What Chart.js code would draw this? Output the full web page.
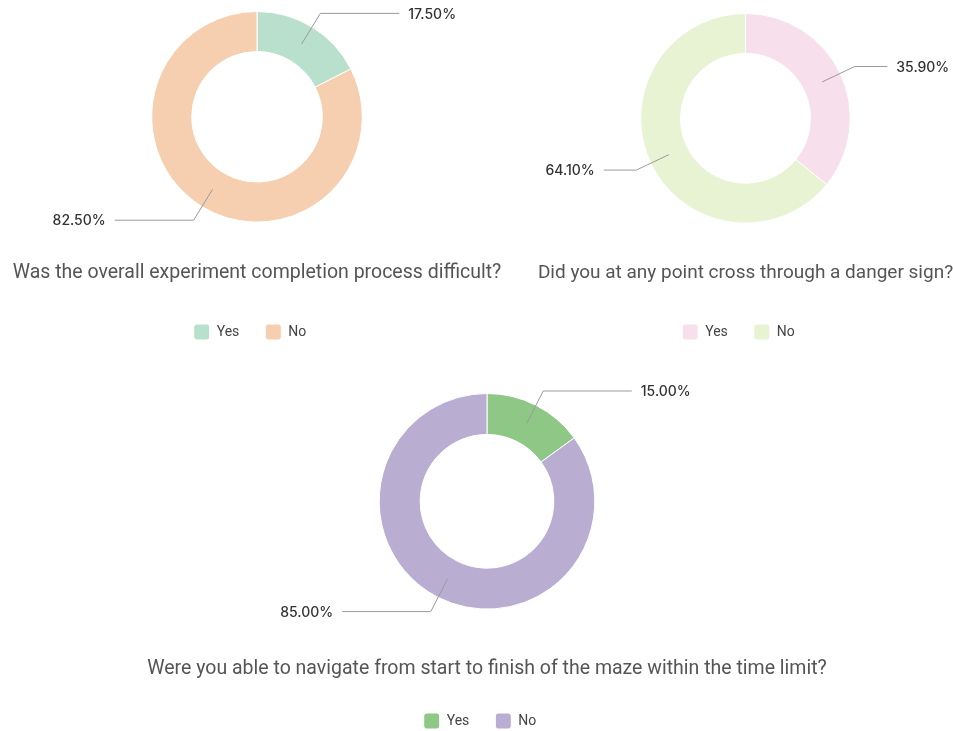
<!DOCTYPE html>
<html>
<head>
<meta charset="utf-8">
<script src="https://cdn.jsdelivr.net/npm/chart.js@4/dist/chart.umd.min.js"></script>
<style>
  html, body { margin: 0; padding: 0; background: #fff; overflow: hidden; }
  body { width: 953px; height: 731px; position: relative; }
  .box { position: absolute; }
</style>
</head>
<body>
<div class="box" id="w1" style="left:0;top:0;width:514px;height:350px"><canvas id="c1"></canvas></div>
<div class="box" id="w2" style="left:490px;top:0;width:511px;height:350px"><canvas id="c2"></canvas></div>
<div class="box" id="w3" style="left:130px;top:380px;width:714px;height:359px"><canvas id="c3"></canvas></div>
<script>
// answer categories shared by all three questions
const ANSWERS = ["Yes", "No"];

// percentages per question
const difficultPct = [17.5, 82.5];
const dangerPct = [35.9, 64.1];
const mazePct = [15.0, 85.0];

const difficultColors = ["#b9e0cc", "#f5cfb0"];
const dangerColors = ["#f7dfeb", "#e8f3d4"];
const mazeColors = ["#8fc786", "#b9aed1"];

// leader lines + percentage labels, placed from the arc elements themselves
const leaderLabels = {
  id: "leaderLabels",
  afterLayout(chart) {
    // legend in the source sits a bit left of the donut centre
    chart.legend.left -= 7;
    chart.legend.right -= 7;
  },
  afterDatasetsDraw(chart) {
    const ctx = chart.ctx;
    const meta = chart.getDatasetMeta(0);
    const vals = chart.data.datasets[0].data;
    ctx.save();
    meta.data.forEach((arc, i) => {
      const p = arc.getProps(["x", "y", "startAngle", "endAngle", "innerRadius", "outerRadius"], true);
      const mid = (p.startAngle + p.endAngle) / 2;
      const rMid = (p.innerRadius + p.outerRadius) / 2;
      const cos = Math.cos(mid), sin = Math.sin(mid);
      const x1 = p.x + cos * rMid, y1 = p.y + sin * rMid;
      const x2 = p.x + cos * (p.outerRadius + 16), y2 = p.y + sin * (p.outerRadius + 16);
      const right = cos >= 0;
      const x3 = p.x + (right ? 1 : -1) * (p.outerRadius + 37);
      ctx.strokeStyle = "#9a9a9a";
      ctx.lineWidth = 1;
      ctx.beginPath();
      ctx.moveTo(x1, y1);
      ctx.lineTo(x2, y2);
      ctx.lineTo(x3, y2);
      ctx.stroke();
      ctx.fillStyle = "#333";
      ctx.font = "500 14px Inter, 'Open Sans', sans-serif";
      ctx.textBaseline = "middle";
      ctx.textAlign = right ? "left" : "right";
      ctx.fillText(vals[i].toFixed(2) + "%", x3 + (right ? 9 : -9), y2 + 1);
    });
    ctx.restore();
  },
};

function makeDonut(id, values, colors, question, pad) {
  return new Chart(document.getElementById(id), {
    type: "doughnut",
    data: {
      labels: ANSWERS,
      datasets: [
        {
          data: values,
          backgroundColor: colors,
          borderColor: "#ffffff",
          borderWidth: 1,
        },
      ],
    },
    options: {
      responsive: true,
      maintainAspectRatio: false,
      animation: false,
      events: [],
      cutout: "62%",
      layout: { padding: { top: pad.top } },
      plugins: {
        tooltip: { enabled: false },
        title: {
          display: true,
          text: question,
          position: "bottom",
          weight: 2000,
          color: "#555",
          font: { family: "Roboto, sans-serif", size: pad.titleSize, weight: "normal", lineHeight: 1.2 },
          padding: { top: pad.titleTop, bottom: pad.titleBottom },
        },
        legend: {
          position: "bottom",
          weight: 3000,
          labels: {
            boxWidth: 16,
            boxHeight: 16,
            useBorderRadius: true,
            borderRadius: 3,
            padding: 26,
            color: "#444",
            font: { family: "Roboto, sans-serif", size: 14 },
          },
        },
      },
    },
    plugins: [leaderLabels],
  });
}

makeDonut("c1", difficultPct, difficultColors,
  "Was the overall experiment completion process difficult?",
  { top: 11, titleTop: 39, titleBottom: 13, titleSize: 19.5 });
makeDonut("c2", dangerPct, dangerColors,
  "Did you at any point cross through a danger sign?",
  { top: 13, titleTop: 38, titleBottom: 13.6, titleSize: 19 });
makeDonut("c3", mazePct, mazeColors,
  "Were you able to navigate from start to finish of the maze within the time limit?",
  { top: 13, titleTop: 48, titleBottom: 6, titleSize: 19.5 });
</script>
</body>
</html>
